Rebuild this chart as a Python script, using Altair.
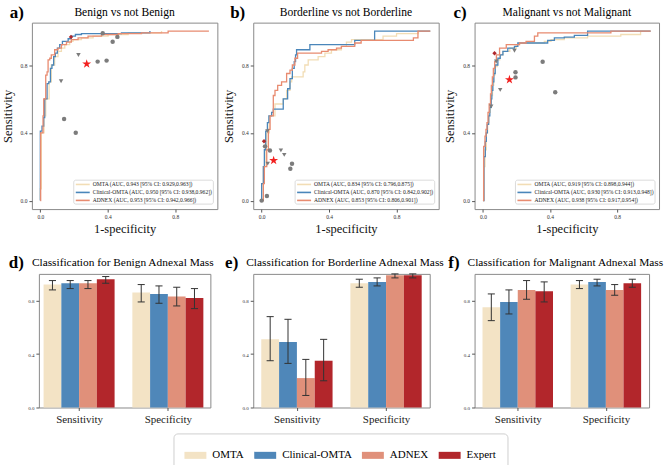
import altair as alt
import pandas as pd

FONT = "Liberation Serif"
FRAME = "#8a8a8a"
TICKS = [0.0, 0.2, 0.4, 0.6, 0.8, 1.0]

# ---------------------------------------------------------------- ROC curves
roc_models = ["OMTA", "Clinical-OMTA", "ADNEX"]
roc_colors = ["#F2DDB5", "#4A86BA", "#E88B70"]

# a) Benign vs not Benign
benign_omta_fpr = [0.0, 0.0, 0.006, 0.022, 0.032, 0.052, 0.065, 0.085, 0.105, 0.125, 0.145, 0.174, 0.194, 0.244, 0.313, 0.402, 0.521, 0.719]
benign_omta_tpr = [0.0, 0.07, 0.40, 0.50, 0.60, 0.70, 0.80, 0.85, 0.88, 0.90, 0.92, 0.94, 0.95, 0.96, 0.97, 0.98, 0.99, 1.0]
benign_clin_fpr = [0.0, 0.0, 0.010, 0.020, 0.026, 0.040, 0.050, 0.060, 0.069, 0.079, 0.089, 0.101, 0.115, 0.131, 0.165, 0.184, 0.208, 0.244, 0.481, 0.650]
benign_clin_tpr = [0.0, 0.41, 0.44, 0.49, 0.60, 0.69, 0.70, 0.78, 0.80, 0.85, 0.87, 0.90, 0.92, 0.94, 0.955, 0.97, 0.98, 0.985, 0.99, 1.0]
benign_adnex_fpr = [0.0, 0.002, 0.016, 0.020, 0.032, 0.040, 0.046, 0.056, 0.065, 0.085, 0.105, 0.125, 0.155, 0.184, 0.224, 0.283, 0.363, 0.462, 0.600, 0.758, 1.0]
benign_adnex_tpr = [0.0, 0.40, 0.50, 0.60, 0.74, 0.76, 0.83, 0.84, 0.86, 0.89, 0.90, 0.92, 0.935, 0.95, 0.96, 0.97, 0.98, 0.985, 0.99, 1.0, 1.0]
benign_auc = [
    "OMTA (AUC, 0.943 [95% CI: 0.929,0.963])",
    "Clinical-OMTA (AUC, 0.950 [95% CI: 0.938,0.962])",
    "ADNEX (AUC, 0.953 [95% CI: 0.942,0.966])",
]

# b) Borderline vs not Borderline
border_omta_fpr = [0.0, 0.0, 0.010, 0.020, 0.030, 0.045, 0.079, 0.128, 0.148, 0.168, 0.178, 0.246, 0.256, 0.276, 0.335, 0.375, 0.414, 0.473, 0.503, 0.533, 0.720, 0.800, 0.930, 1.0]
border_omta_tpr = [0.0, 0.10, 0.20, 0.30, 0.40, 0.50, 0.57, 0.60, 0.65, 0.70, 0.73, 0.76, 0.80, 0.83, 0.85, 0.87, 0.89, 0.91, 0.935, 0.95, 0.97, 0.985, 1.0, 1.0]
border_clin_fpr = [0.0, 0.0, 0.010, 0.016, 0.024, 0.034, 0.043, 0.059, 0.069, 0.128, 0.154, 0.168, 0.182, 0.193, 0.201, 0.207, 0.286, 0.552, 0.670, 1.0]
border_clin_tpr = [0.0, 0.10, 0.20, 0.30, 0.41, 0.46, 0.50, 0.52, 0.54, 0.60, 0.66, 0.72, 0.78, 0.82, 0.86, 0.89, 0.92, 0.945, 1.0, 1.0]
border_adnex_fpr = [0.0, 0.010, 0.016, 0.030, 0.040, 0.050, 0.069, 0.079, 0.095, 0.118, 0.148, 0.168, 0.182, 0.197, 0.213, 0.355, 0.394, 0.444, 0.473, 0.552, 0.590, 0.900, 0.927, 1.0]
border_adnex_tpr = [0.0, 0.10, 0.20, 0.30, 0.42, 0.50, 0.62, 0.65, 0.68, 0.70, 0.75, 0.77, 0.80, 0.84, 0.87, 0.88, 0.89, 0.90, 0.91, 0.93, 0.945, 0.96, 1.0, 1.0]
border_auc = [
    "OMTA (AUC, 0.834 [95% CI: 0.796,0.875])",
    "Clinical-OMTA (AUC, 0.870 [95% CI: 0.842,0.902])",
    "ADNEX (AUC, 0.853 [95% CI: 0.806,0.901])",
]

# c) Malignant vs not Malignant
malig_omta_fpr = [0.0, 0.006, 0.012, 0.020, 0.028, 0.036, 0.044, 0.050, 0.057, 0.064, 0.071, 0.085, 0.100, 0.119, 0.160, 0.198, 0.218, 0.366, 0.406, 0.485, 0.624, 0.822, 0.940, 1.0]
malig_omta_tpr = [0.0, 0.20, 0.30, 0.40, 0.46, 0.52, 0.57, 0.62, 0.68, 0.74, 0.79, 0.83, 0.86, 0.88, 0.90, 0.92, 0.93, 0.94, 0.95, 0.96, 0.97, 0.98, 1.0, 1.0]
malig_clin_fpr = [0.0, 0.006, 0.014, 0.020, 0.026, 0.034, 0.041, 0.049, 0.053, 0.059, 0.065, 0.073, 0.089, 0.103, 0.119, 0.148, 0.188, 0.208, 0.386, 0.426, 0.485, 0.545, 0.624, 1.0]
malig_clin_tpr = [0.0, 0.26, 0.35, 0.40, 0.45, 0.50, 0.55, 0.60, 0.65, 0.70, 0.75, 0.80, 0.84, 0.86, 0.88, 0.90, 0.91, 0.93, 0.945, 0.96, 0.965, 0.975, 1.0, 1.0]
malig_adnex_fpr = [0.0, 0.004, 0.012, 0.018, 0.024, 0.030, 0.037, 0.045, 0.050, 0.056, 0.062, 0.070, 0.080, 0.099, 0.139, 0.218, 0.257, 0.307, 0.327, 0.763, 1.0]
malig_adnex_tpr = [0.0, 0.32, 0.38, 0.42, 0.46, 0.52, 0.57, 0.63, 0.68, 0.73, 0.78, 0.82, 0.86, 0.90, 0.92, 0.93, 0.94, 0.97, 0.99, 1.0, 1.0]
malig_auc = [
    "OMTA (AUC, 0.919 [95% CI: 0.898,0.944])",
    "Clinical-OMTA (AUC, 0.930 [95% CI: 0.913,0.948])",
    "ADNEX (AUC, 0.938 [95% CI: 0.917,0.954])",
]

# Operating points of other rules / readers (1-specificity, sensitivity)
benign_circle_fpr = [0.141, 0.210, 0.340, 0.393, 0.429, 0.457, 0.370]
benign_circle_tpr = [0.482, 0.400, 0.820, 0.826, 0.937, 0.966, 0.988]
benign_tri_fpr = [0.123, 0.226]
benign_tri_tpr = [0.704, 0.859]
benign_diamond = [0.182, 0.966]
benign_star = [0.275, 0.806]

border_circle_fpr = [0.0, 0.031, 0.020, 0.049, 0.180, 0.170]
border_circle_tpr = [0.0, 0.027, 0.320, 0.296, 0.218, 0.188]
border_tri_fpr = [0.034, 0.114, 0.134, 0.036]
border_tri_tpr = [0.410, 0.296, 0.270, 0.218]
border_diamond = [0.014, 0.350]
border_star = [0.071, 0.237]

malig_circle_fpr = [0.356, 0.194, 0.194, 0.431]
malig_circle_tpr = [0.819, 0.757, 0.727, 0.639]
malig_tri_fpr = [0.079, 0.188, 0.103, 0.049]
malig_tri_tpr = [0.821, 0.884, 0.653, 0.555]
malig_diamond = [0.069, 0.870]
malig_star = [0.158, 0.714]

# ------------------------------------------------------------- bar panels
categories = ["Sensitivity", "Specificity"]
bar_models = ["OMTA", "Clinical-OMTA", "ADNEX", "Expert"]
bar_colors = ["#F3E3C5", "#4F87B9", "#E0907A", "#B2262B"]

benign_sensitivity = [0.92, 0.93, 0.93, 0.96]
benign_sensitivity_ci = [(0.88, 0.95), (0.89, 0.95), (0.89, 0.95), (0.93, 0.98)]
benign_specificity = [0.86, 0.85, 0.83, 0.82]
benign_specificity_ci = [(0.79, 0.92), (0.78, 0.91), (0.76, 0.90), (0.74, 0.89)]

border_sensitivity = [0.51, 0.49, 0.22, 0.35]
border_sensitivity_ci = [(0.35, 0.68), (0.33, 0.66), (0.09, 0.36), (0.20, 0.51)]
border_specificity = [0.93, 0.94, 0.99, 0.99]
border_specificity_ci = [(0.90, 0.96), (0.91, 0.97), (0.97, 1.00), (0.97, 1.00)]

malig_sensitivity = [0.75, 0.79, 0.88, 0.87]
malig_sensitivity_ci = [(0.65, 0.85), (0.70, 0.88), (0.81, 0.95), (0.79, 0.94)]
malig_specificity = [0.92, 0.94, 0.88, 0.93]
malig_specificity_ci = [(0.89, 0.95), (0.91, 0.96), (0.84, 0.92), (0.90, 0.96)]

STAR = ("M0,-1L0.225,-0.309L0.951,-0.309L0.363,0.118L0.588,0.809L0,0.382"
        "L-0.588,0.809L-0.363,0.118L-0.951,-0.309L-0.225,-0.309Z")
SWATCH = "M-1,-0.32H1V0.32H-1Z"


def one_row(**cols):
    return pd.DataFrame({k: [v] for k, v in cols.items()})


def label_layer(text, x, y, size, weight, align):
    return alt.Chart(one_row(t=text)).mark_text(
        font=FONT, fontSize=size, fontWeight=weight, align=align,
        baseline="alphabetic", color="black",
    ).encode(text="t:N", x=alt.value(x), y=alt.value(y))


def line_key(labels, width, height):
    """Small boxed key in the lower right corner of a ROC panel."""
    x0, x1 = width - 144, width - 4
    y0, y1 = height - 29, height - 5
    parts = [
        alt.Chart(one_row(k=0)).mark_rect(
            fill="white", stroke="#d2d2d2", strokeWidth=0.8, cornerRadius=2
        ).encode(x=alt.value(x0), x2=alt.value(x1), y=alt.value(y0), y2=alt.value(y1))
    ]
    for row, (label, colour) in enumerate(zip(labels, roc_colors)):
        yc = y0 + 4.3 + 8 * row
        parts.append(
            alt.Chart(one_row(k=row)).mark_rule(color=colour, strokeWidth=1.6).encode(
                x=alt.value(x0 + 2), x2=alt.value(x0 + 16), y=alt.value(yc))
        )
        parts.append(
            alt.Chart(one_row(t=label)).mark_text(
                font=FONT, fontSize=5.6, align="left", baseline="middle", color="#222222"
            ).encode(text="t:N", x=alt.value(x0 + 19), y=alt.value(yc))
        )
    return parts


def roc_panel(tag, title, curves, labels, circles, triangles, diamond, star, width):
    height = 187
    x_enc = alt.X("fpr:Q", scale=alt.Scale(domain=[-0.05, 1.05], nice=False, zero=False),
                  axis=alt.Axis(title="1-specificity", values=TICKS, format=".1f",
                                titleFontSize=12.5, titlePadding=3))
    y_enc = alt.Y("tpr:Q", scale=alt.Scale(domain=[-0.05, 1.05], nice=False, zero=False),
                  axis=alt.Axis(title="Sensitivity", values=TICKS, format=".1f",
                                titleFontSize=12.5, titlePadding=6))

    layers = []
    for label, colour, (fpr, tpr) in zip(labels, roc_colors, curves):
        df = pd.DataFrame({"model": label, "step": range(len(fpr)), "fpr": fpr, "tpr": tpr})
        layers.append(
            alt.Chart(df).mark_line(interpolate="step-after", strokeWidth=1.3, color=colour)
            .encode(x=x_enc, y=y_enc, order=alt.Order("step:Q"))
        )

    circ_df = pd.DataFrame({"fpr": circles[0], "tpr": circles[1]})
    tri_df = pd.DataFrame({"fpr": triangles[0], "tpr": triangles[1]})
    dia_df = one_row(fpr=diamond[0], tpr=diamond[1])
    star_df = one_row(fpr=star[0], tpr=star[1])
    layers += [
        alt.Chart(circ_df).mark_point(shape="circle", filled=True, size=20, opacity=1,
                                      color="#7c7c7c").encode(x="fpr:Q", y="tpr:Q"),
        alt.Chart(tri_df).mark_point(shape="triangle-down", filled=True, size=20, opacity=1,
                                     color="#7c7c7c").encode(x="fpr:Q", y="tpr:Q"),
        alt.Chart(dia_df).mark_point(shape="diamond", filled=True, size=20, opacity=1,
                                     color="#b0282c").encode(x="fpr:Q", y="tpr:Q"),
        alt.Chart(star_df).mark_point(shape=STAR, filled=True, size=90, opacity=1,
                                      color="#f2201f").encode(x="fpr:Q", y="tpr:Q"),
    ]
    layers += line_key(labels, width, height)
    layers += [
        label_layer(title, width / 2, -6.5, 11.6, "normal", "center"),
        label_layer(tag, -8, -5, 17, "bold", "right"),
    ]
    return alt.layer(*layers).properties(width=width, height=height)


def bar_panel(tag, title, sens, sens_ci, spec, spec_ci, width, domain, legend):
    rows = []
    for i, name in enumerate(bar_models):
        for g, (vals, cis) in enumerate([(sens, sens_ci), (spec, spec_ci)]):
            centre = g + (i - 1.5) * 0.2
            rows.append({
                "model": name, "metric": categories[g], "value": vals[i],
                "lo": cis[i][0], "hi": cis[i][1],
                "xc": centre, "x0": centre - 0.1, "x1": centre + 0.1,
                "c0": centre - 0.04, "c1": centre + 0.04,
            })
    df = pd.DataFrame(rows)
    label_expr = f"datum.value == 0 ? '{categories[0]}' : '{categories[1]}'"
    x_scale = alt.Scale(domain=domain, nice=False, zero=False)
    bars = alt.Chart(df).mark_bar().encode(
        x=alt.X("x0:Q", scale=x_scale,
                axis=alt.Axis(title=None, values=[0, 1], labelExpr=label_expr,
                              labelFontSize=11, labelPadding=3, labelColor="#222")),
        x2="x1:Q",
        y=alt.Y("value:Q", scale=alt.Scale(domain=[0, 1], nice=False),
                axis=alt.Axis(title=None, values=TICKS, format=".1f", labelFontSize=5)),
        y2=alt.datum(0),
        color=alt.Color("model:N", scale=alt.Scale(domain=bar_models, range=bar_colors),
                        legend=legend),
    )
    whisker = alt.Chart(df).mark_rule(color="#333333", strokeWidth=1).encode(
        x="xc:Q", y="lo:Q", y2="hi:Q")
    cap_lo = alt.Chart(df).mark_rule(color="#333333", strokeWidth=1).encode(
        x="c0:Q", x2="c1:Q", y="lo:Q")
    cap_hi = alt.Chart(df).mark_rule(color="#333333", strokeWidth=1).encode(
        x="c0:Q", x2="c1:Q", y="hi:Q")
    return alt.layer(
        bars, whisker, cap_lo, cap_hi,
        label_layer(title, -7, -8, 11.4, "normal", "left"),
        label_layer(tag, -15, -6, 17, "bold", "right"),
    ).properties(width=width, height=134)


bar_legend = alt.Legend(
    orient="none", legendX=-80, legendY=160, direction="horizontal", title=None,
    symbolType=SWATCH, symbolSize=484, symbolStrokeWidth=0, symbolOpacity=1,
    labelFont=FONT, labelFontSize=11, labelOffset=6, columnPadding=10,
    padding=11, fillColor="white", strokeColor="#cfcfcf", cornerRadius=4,
)

panel_a = roc_panel("a)", "Benign vs not Benign",
                    [(benign_omta_fpr, benign_omta_tpr), (benign_clin_fpr, benign_clin_tpr),
                     (benign_adnex_fpr, benign_adnex_tpr)],
                    benign_auc, (benign_circle_fpr, benign_circle_tpr),
                    (benign_tri_fpr, benign_tri_tpr), benign_diamond, benign_star, 186)
panel_b = roc_panel("b)", "Borderline vs not Borderline",
                    [(border_omta_fpr, border_omta_tpr), (border_clin_fpr, border_clin_tpr),
                     (border_adnex_fpr, border_adnex_tpr)],
                    border_auc, (border_circle_fpr, border_circle_tpr),
                    (border_tri_fpr, border_tri_tpr), border_diamond, border_star, 186)
panel_c = roc_panel("c)", "Malignant vs not Malignant",
                    [(malig_omta_fpr, malig_omta_tpr), (malig_clin_fpr, malig_clin_tpr),
                     (malig_adnex_fpr, malig_adnex_tpr)],
                    malig_auc, (malig_circle_fpr, malig_circle_tpr),
                    (malig_tri_fpr, malig_tri_tpr), malig_diamond, malig_star, 185)

panel_d = bar_panel("d)", "Classification for Benign Adnexal Mass",
                    benign_sensitivity, benign_sensitivity_ci,
                    benign_specificity, benign_specificity_ci, 172, [-0.453, 1.479], None)
panel_e = bar_panel("e)", "Classification for Borderline Adnexal Mass",
                    border_sensitivity, border_sensitivity_ci,
                    border_specificity, border_specificity_ci, 177, [-0.49, 1.49], bar_legend)
panel_f = bar_panel("f)", "Classification for Malignant Adnexal Mass",
                    malig_sensitivity, malig_sensitivity_ci,
                    malig_specificity, malig_specificity_ci, 175, [-0.49, 1.49], None)

chart = alt.concat(
    panel_a, panel_b, panel_c, panel_d, panel_e, panel_f,
    columns=3, spacing=alt.RowColnumber(row=65, column=36),
    bounds="flush", center=True,
).resolve_scale(
    color="independent", x="independent", y="independent"
).properties(
    padding={"left": 0, "top": 2, "right": 2, "bottom": 0}, background="white"
).configure_view(
    stroke=FRAME, strokeWidth=1
).configure_axis(
    domain=False, grid=False, ticks=True, tickSize=3, tickColor="#555555",
    labelFont=FONT, labelFontSize=5.5, labelColor="#333333", labelPadding=2,
    labelOverlap=False, labelFlush=False,
    titleFont=FONT, titleFontWeight="normal", titleColor="#111111",
)

chart.save("out.html", embed_options={"renderer": "svg", "actions": False})
